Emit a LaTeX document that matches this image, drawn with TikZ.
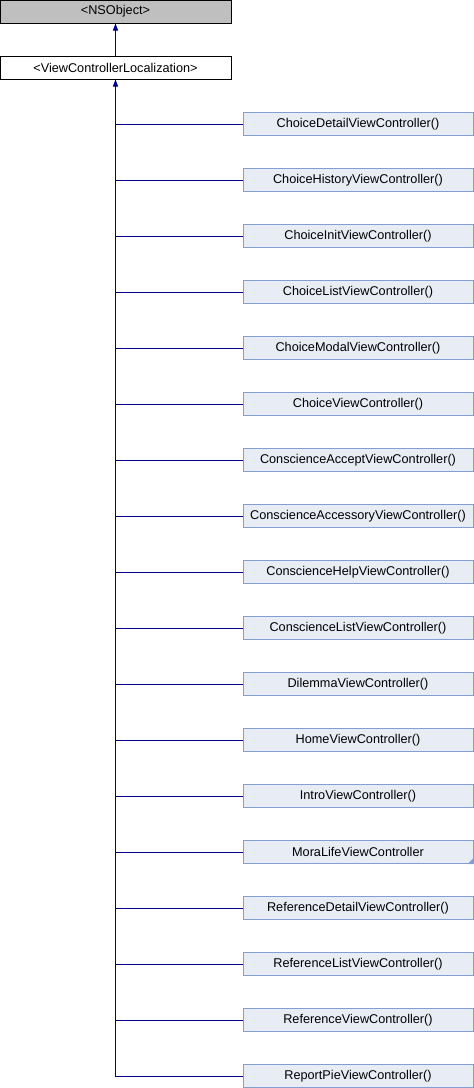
\documentclass[tikz,border=0pt]{standalone}
\usepackage{fontspec}
\setmainfont{Liberation Sans}
\usetikzlibrary{arrows.meta}

\definecolor{edgeblue}{RGB}{0,0,140}
\definecolor{boxfill}{RGB}{232,236,245}
\definecolor{boxline}{RGB}{132,158,212}
\definecolor{basefill}{RGB}{191,191,191}

\tikzset{
  classbox/.style={draw, line width=1pt, minimum height=23pt, inner sep=0pt,
    font=\fontsize{12.7}{15}\selectfont},
  base/.style={classbox, fill=basefill, minimum width=231pt},
  proto/.style={classbox, fill=white, minimum width=231pt},
  sub/.style={classbox, draw=boxline, fill=boxfill, minimum width=230pt},
  edge/.style={draw=edgeblue, line width=1pt},
  inherit/.style={edge, -{Triangle[width=5pt,length=7pt]}}
}

\begin{document}
\begin{tikzpicture}[x=1pt,y=-1pt]
  \useasboundingbox (0,0) rectangle (474,1088);

  \node[base] (nso) at (115.5,11.5) {<NSObject>};
  \node[proto] (vcl) at (115.5,67.5) {<ViewControllerLocalization>};
  \draw[inherit] (vcl.north) -- (nso.south);

  \foreach \name [count=\i from 0] in {ChoiceDetailViewController(),
      ChoiceHistoryViewController(), ChoiceInitViewController(),
      ChoiceListViewController(), ChoiceModalViewController(),
      ChoiceViewController(), ConscienceAcceptViewController(),
      ConscienceAccessoryViewController(), ConscienceHelpViewController(),
      ConscienceListViewController(), DilemmaViewController(),
      HomeViewController(), IntroViewController(), MoraLifeViewController,
      ReferenceDetailViewController(), ReferenceListViewController(),
      ReferenceViewController(), ReportPieViewController()}
    \node[sub] (c\i) at (358,124+56*\i) {\name};

  % more subclasses hidden below MoraLifeViewController
  \fill[boxline] (c13.south east) -- ++(-6pt,0pt) -- ++(6pt,6pt) -- cycle;

  \draw[edge, {Triangle[width=5pt,length=7pt]}-] (vcl.south) -- (vcl.south |- c17.west) -- (c17.west);
  \foreach \i in {0,...,16}
    \draw[edge] (vcl.south |- c\i.west) -- (c\i.west);
\end{tikzpicture}
\end{document}
